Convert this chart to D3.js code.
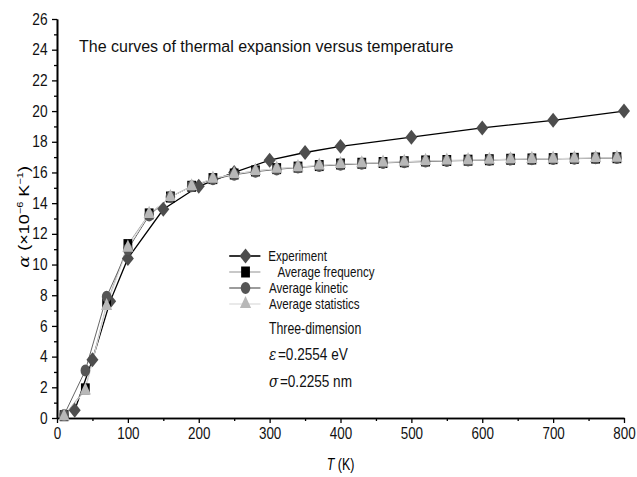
<!DOCTYPE html>
<html><head><meta charset="utf-8">
<script src="https://cdn.jsdelivr.net/npm/d3@7"></script>
<style>body{margin:0;background:#fff}svg{display:block}text{font-family:Arial,"Liberation Sans",sans-serif}</style>
</head><body><svg id="c" width="637" height="477"></svg>
<script>
const expT = [25, 50, 75, 100, 150, 200, 250, 300, 350, 400, 500, 600, 700, 800];
const expA = [0.5, 3.8, 7.6, 10.4, 13.6, 15.1, 16.0, 16.8, 17.3, 17.7, 18.3, 18.9, 19.4, 20.0];
const modelT = [10, 40, 70, 100, 130, 160, 190, 220, 250, 280, 310, 340, 370, 400, 430, 460, 490, 520, 550, 580, 610, 640, 670, 700, 730, 760, 790];
const freqA = [0.15, 1.9, 7.4, 11.3, 13.3, 14.4, 15.1, 15.6, 15.9, 16.1, 16.25, 16.35, 16.45, 16.55, 16.6, 16.65, 16.7, 16.75, 16.78, 16.8, 16.83, 16.86, 16.88, 16.9, 16.92, 16.94, 16.96];
const kinA = [0.2, 3.1, 7.9, 11.0, 13.2, 14.4, 15.1, 15.55, 15.85, 16.05, 16.2, 16.32, 16.42, 16.5, 16.57, 16.62, 16.67, 16.71, 16.75, 16.78, 16.81, 16.84, 16.86, 16.88, 16.9, 16.92, 16.94];
const statA = [0.1, 1.8, 7.3, 11.1, 13.3, 14.4, 15.1, 15.6, 15.9, 16.1, 16.25, 16.35, 16.45, 16.55, 16.6, 16.65, 16.7, 16.75, 16.78, 16.8, 16.83, 16.86, 16.88, 16.9, 16.92, 16.94, 16.96];
const xTicks = [0, 100, 200, 300, 400, 500, 600, 700, 800];
const yTicks = [0, 2, 4, 6, 8, 10, 12, 14, 16, 18, 20, 22, 24, 26];
const seriesNames = ["Experiment", "Average frequency", "Average kinetic", "Average statistics"];
const noteLines = ["Three-dimension", "=0.2554 eV", "=0.2255 nm"];
const titleText = "The curves of thermal expansion versus temperature";

const svg = d3.select("#c");
const x = d3.scaleLinear().domain([0, 800]).range([57, 624]);
const y = d3.scaleLinear().domain([0, 26]).range([418, 19]);

// axes
const xAxis = d3.axisBottom(x).tickValues(xTicks).tickSize(5).tickSizeOuter(0).tickPadding(5);
const yAxis = d3.axisLeft(y).tickValues(yTicks).tickSize(5).tickSizeOuter(0).tickPadding(6);
const gx = svg.append("g").attr("transform", `translate(0,${y(0)})`).call(xAxis);
const gy = svg.append("g").attr("transform", `translate(${x(0)},0)`).call(yAxis);
const gxm = svg.append("g").attr("transform", `translate(0,${y(0)})`)
  .call(d3.axisBottom(x).tickValues(d3.range(50, 800, 100)).tickSize(3).tickSizeOuter(0).tickFormat(""));
const gym = svg.append("g").attr("transform", `translate(${x(0)},0)`)
  .call(d3.axisLeft(y).tickValues(d3.range(1, 26, 2)).tickSize(3).tickSizeOuter(0).tickFormat(""));
[gx, gy, gxm, gym].forEach(g => {
  g.selectAll("path").attr("stroke", "#000").attr("stroke-width", 1.6);
  g.selectAll("line").attr("stroke", "#000").attr("stroke-width", 1.3);
  g.selectAll("text").attr("font-size", 16).attr("fill", "#111").attr("font-family", "Arial");
});
gx.selectAll("text").attr("transform", "scale(0.84,1)");
gy.selectAll("text").attr("transform", "scale(0.86,1)");

// axis titles
const xt = svg.append("text").attr("transform", `translate(${(x(0) + x(800)) / 2},470) scale(0.78,1)`)
  .attr("text-anchor", "middle").attr("font-size", 16);
xt.append("tspan").attr("font-style", "italic").text("T");
xt.append("tspan").text(" (K)");
const yt = svg.append("text").attr("transform", `translate(29,${y(13.1)}) scale(0.8,1) rotate(-90)`)
  .attr("text-anchor", "middle").attr("font-size", 18);
yt.append("tspan").attr("font-style", "italic").attr("font-family", "DejaVu Serif").text("α");
yt.append("tspan").text(" (×10");
yt.append("tspan").attr("font-size", 11).attr("dy", -7).text("−6");
yt.append("tspan").attr("dy", 7).text(" K");
yt.append("tspan").attr("font-size", 11).attr("dy", -7).text("−1");
yt.append("tspan").attr("dy", 7).text(")");

// title
svg.append("text").attr("transform", `translate(${x(31)},52)`).attr("font-size", 16).attr("fill", "#111").text(titleText);

// marker symbols
const sym = {
  diamond: d3.symbol().type(d3.symbolSquare).size(112),
  square: d3.symbol().type(d3.symbolSquare).size(121),
  circle: d3.symbol().type(d3.symbolCircle).size(113),
  triangle: d3.symbol().type(d3.symbolTriangle).size(85)
};
const rot = {diamond: " rotate(45)", square: "", circle: "", triangle: ""};
const series = [
  {T: expT, A: expA, line: "#000", lw: 1.3, shape: "diamond", fill: "#4d4d4d"},
  {T: modelT, A: freqA, line: "#aaa", lw: 1, shape: "square", fill: "#000"},
  {T: modelT, A: kinA, line: "#666", lw: 1, shape: "circle", fill: "#555"},
  {T: modelT, A: statA, line: "#ddd", lw: 1, shape: "triangle", fill: "#b8b8b8"}
];
const line = d3.line().x(d => x(d[0])).y(d => y(d[1]));
series.forEach(s => {
  const pts = s.T.map((t, i) => [t, s.A[i]]);
  svg.append("path").datum(pts).attr("d", line).attr("fill", "none").attr("stroke", s.line).attr("stroke-width", s.lw);
});
series.forEach(s => {
  const pts = s.T.map((t, i) => [t, s.A[i]]);
  svg.append("g").selectAll("path").data(pts).join("path")
    .attr("transform", d => `translate(${x(d[0])},${y(d[1])}) scale(0.8,1)${rot[s.shape]}`)
    .attr("d", sym[s.shape]).attr("fill", s.fill);
});

// legend
const legY = [256, 272, 288, 304];
const legTextT = [298, 311, 299, 299];
series.forEach((s, i) => {
  svg.append("line").attr("x1", x(243)).attr("x2", x(287)).attr("y1", legY[i]).attr("y2", legY[i])
    .attr("stroke", s.line).attr("stroke-width", s.lw + 0.3);
  svg.append("path").attr("transform", `translate(${x(266)},${legY[i]}) scale(0.8,1)${rot[s.shape]}`)
    .attr("d", sym[s.shape]).attr("fill", s.fill);
  svg.append("text").attr("transform", `translate(${x(legTextT[i])},${legY[i] + 5}) scale(0.8,1)`)
    .attr("font-size", 14.5).attr("fill", "#111").text(seriesNames[i]);
});
const noteX = x(299);
svg.append("text").attr("transform", `translate(${noteX},334) scale(0.77,1)`).attr("font-size", 16).attr("fill", "#111").text(noteLines[0]);
const e1 = svg.append("text").attr("transform", `translate(${noteX},360) scale(0.85,1)`).attr("font-size", 16).attr("fill", "#111");
e1.append("tspan").attr("font-style", "italic").attr("font-family", "DejaVu Serif").text("ε");
e1.append("tspan").attr("dx", 2).text(noteLines[1]);
const e2 = svg.append("text").attr("transform", `translate(${noteX},387) scale(0.85,1)`).attr("font-size", 16).attr("fill", "#111");
e2.append("tspan").attr("font-style", "italic").attr("font-family", "DejaVu Serif").text("σ");
e2.append("tspan").attr("dx", 2).text(noteLines[2]);
</script></body></html>
